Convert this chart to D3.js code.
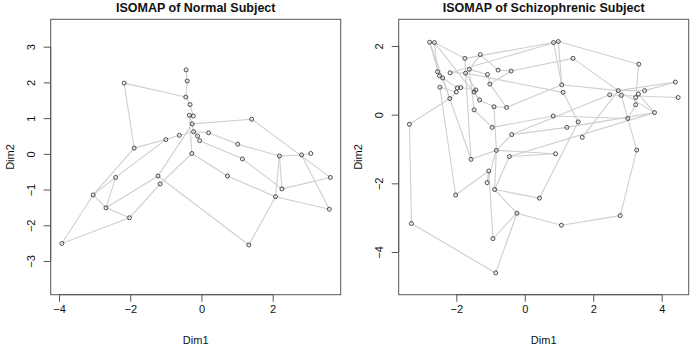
<!DOCTYPE html>
<html>
<head>
<meta charset="utf-8">
<script src="https://cdn.jsdelivr.net/npm/d3@7"></script>
<style>
  body { margin: 0; background: #fff; }
  svg { display: block; font-family: "Liberation Sans", Arial, sans-serif; }
</style>
</head>
<body>
<div id="chart"></div>
<script>
// ---- data: normal subject ----
const normalX = [-0.43, -0.40, -2.17, -0.44, -0.32, -0.34, -0.23, 1.41, -0.26, -0.22,
  0.20, -0.62, -0.11, -1.00, -0.05, -1.89, 1.02, -0.27, 2.19, 2.81,
  3.07, 1.15, -2.41, -1.22, 0.73, 3.62, -1.16, 2.26, -3.04, 2.08,
  -2.68, 3.59, -2.02, -3.92, 1.33];
const normalY = [2.35, 2.04, 1.98, 1.59, 1.38, 1.08, 1.06, 0.97, 0.84, 0.62,
  0.59, 0.52, 0.50, 0.40, 0.37, 0.16, 0.27, 0.01, -0.06, -0.03,
  0.01, -0.14, -0.66, -0.62, -0.62, -0.66, -0.84, -0.98, -1.15, -1.20,
  -1.51, -1.55, -1.79, -2.51, -2.55];
// pairs of point numbers (1-based)
const normalEdges = [
  [1, 2], [2, 4], [4, 5], [5, 7], [7, 6], [6, 9], [9, 10], [10, 13], [13, 15], [6, 18],
  [3, 4], [3, 16], [9, 8], [8, 26], [20, 32], [16, 14], [14, 12], [12, 10], [10, 11],
  [11, 17], [15, 22], [23, 14], [29, 23], [29, 16], [29, 34], [34, 33], [33, 31],
  [31, 29], [31, 23], [31, 24], [33, 27], [27, 18], [24, 9], [24, 35], [18, 25],
  [25, 30], [35, 30], [30, 19], [30, 32], [28, 19], [28, 26], [22, 28], [17, 19],
  [19, 20], [20, 21]
];

// ---- data: schizophrenic subject ----
const schizoX = [-2.78, -2.64, 0.84, 0.98, -1.30, -1.75, 1.41, 3.33, -2.55, -2.18,
  -1.62, -1.73, -0.78, -0.40, -1.09, -2.49, -2.40, -1.02, 1.08, 4.40,
  -2.48, -1.97, -1.87, -2.00, -1.43, -1.48, 1.12, 2.73, 2.48, 2.82,
  3.50, 3.32, 3.24, 4.48, -2.19, -1.32, -0.90, -0.53, 3.24, -1.48,
  3.79, 0.83, 3.01, -3.37, 1.56, -0.95, 1.23, -0.38, 1.68, -0.83,
  3.27, -1.57, -0.45, 0.90, -1.05, -1.10, -0.88, -2.02, 0.43, -0.23,
  2.79, -3.31, 1.07, -0.93, -0.85];
const schizoY = [2.11, 2.10, 2.10, 2.13, 1.75, 1.64, 1.64, 1.47, 1.25, 1.22,
  1.32, 1.21, 1.30, 1.27, 1.17, 1.13, 1.07, 0.89, 0.87, 0.95,
  0.80, 0.78, 0.79, 0.66, 0.72, 0.66, 0.65, 0.70, 0.58, 0.56,
  0.70, 0.60, 0.50, 0.50, 0.47, 0.43, 0.23, 0.21, 0.29, 0.14,
  0.06, -0.04, -0.11, -0.28, -0.21, -0.37, -0.37, -0.58, -0.66, -1.04,
  -1.03, -1.30, -1.22, -1.14, -1.64, -1.98, -2.18, -2.34, -2.43, -2.87,
  -2.94, -3.17, -3.22, -3.61, -4.61];
// pairs of point indices (0-based)
const schizoEdges = [
  [0, 1], [0, 15], [0, 34], [1, 5], [1, 8], [1, 35], [5, 2], [9, 3], [4, 12], [4, 10],
  [5, 11], [8, 15], [15, 16], [16, 21], [9, 11], [10, 14], [11, 24], [12, 13], [13, 17],
  [14, 17], [11, 26], [13, 6], [21, 22], [20, 23], [22, 24], [24, 25], [25, 35], [23, 34],
  [35, 36], [36, 37], [36, 49], [17, 37], [39, 10], [39, 45], [37, 18], [43, 34],
  [2, 18], [3, 18], [3, 7], [6, 27], [7, 32], [18, 27], [27, 19], [27, 30], [28, 29],
  [29, 33], [30, 19], [31, 40], [32, 38], [38, 42], [42, 41], [42, 50], [42, 29],
  [40, 46], [40, 52], [40, 27], [28, 47], [27, 48], [26, 44], [44, 58], [41, 45],
  [46, 47], [53, 49], [53, 52], [47, 49], [49, 51], [49, 56], [51, 11], [51, 16],
  [52, 56], [54, 55], [54, 57], [54, 63], [55, 49], [56, 58], [56, 59], [57, 20],
  [59, 62], [59, 63], [59, 64], [60, 62], [60, 50], [61, 64], [61, 43]
];

const normalXTicks = [-4, -2, 0, 2];
const normalYTicks = [-3, -2, -1, 0, 1, 2, 3];
const schizoXTicks = [-2, 0, 2, 4];
const schizoYTicks = [-4, -2, 0, 2];

const W = 692, H = 348;
const svg = d3.select("#chart").append("svg")
  .attr("width", W)
  .attr("height", H);

function drawPanel(opt) {
  const x = d3.scaleLinear().domain(opt.xDomain).range([opt.left, opt.right]);
  const y = d3.scaleLinear().domain(opt.yDomain).range([opt.bottom, opt.top]);
  const g = svg.append("g");

  // edges
  g.append("g").selectAll("line")
    .data(opt.edges)
    .join("line")
    .attr("x1", d => x(opt.xs[d[0] - opt.base]))
    .attr("y1", d => y(opt.ys[d[0] - opt.base]))
    .attr("x2", d => x(opt.xs[d[1] - opt.base]))
    .attr("y2", d => y(opt.ys[d[1] - opt.base]))
    .attr("stroke", "#cfcfcf")
    .attr("stroke-width", 1.1);

  // points
  g.append("g").selectAll("circle")
    .data(opt.xs.map((v, i) => [v, opt.ys[i]]))
    .join("circle")
    .attr("cx", d => x(d[0]))
    .attr("cy", d => y(d[1]))
    .attr("r", 2)
    .attr("fill", "none")
    .attr("stroke", "#3a3a3a")
    .attr("stroke-width", 0.9);

  // frame
  g.append("rect")
    .attr("x", opt.left)
    .attr("y", opt.top)
    .attr("width", opt.right - opt.left)
    .attr("height", opt.bottom - opt.top)
    .attr("fill", "none")
    .attr("stroke", "#555")
    .attr("stroke-width", 1);

  // x axis (R style: line spans first to last tick)
  const xAxis = g.append("g")
    .attr("transform", `translate(0,${opt.bottom})`)
    .call(d3.axisBottom(x).tickValues(opt.xTicks).tickSizeInner(7).tickSizeOuter(0).tickPadding(4));
  xAxis.select(".domain").attr("d",
    `M${x(opt.xTicks[0])},0H${x(opt.xTicks[opt.xTicks.length - 1])}`);
  xAxis.selectAll("line, .domain").attr("stroke", "#555");
  xAxis.selectAll("text").attr("font-size", 11).attr("fill", "#111")
    .attr("font-family", "Liberation Sans, Arial, sans-serif");

  const yAxis = g.append("g")
    .attr("transform", `translate(${opt.left},0)`)
    .call(d3.axisLeft(y).tickValues(opt.yTicks).tickSizeInner(7).tickSizeOuter(0));
  yAxis.select(".domain").attr("d",
    `M0,${y(opt.yTicks[0])}V${y(opt.yTicks[opt.yTicks.length - 1])}`);
  yAxis.selectAll("line, .domain").attr("stroke", "#555");
  yAxis.selectAll(".tick text")
    .attr("x", null).attr("dy", null)
    .attr("text-anchor", "middle")
    .attr("font-size", 11).attr("fill", "#111")
    .attr("font-family", "Liberation Sans, Arial, sans-serif")
    .attr("transform", "translate(-16,0) rotate(-90)");

  // title and axis labels
  g.append("text")
    .attr("x", (opt.left + opt.right) / 2)
    .attr("y", 12)
    .attr("text-anchor", "middle")
    .attr("font-weight", "bold")
    .attr("font-size", 12.5)
    .attr("fill", "#111")
    .text(opt.title);

  g.append("text")
    .attr("x", (opt.left + opt.right) / 2)
    .attr("y", 344)
    .attr("text-anchor", "middle")
    .attr("font-size", 11)
    .attr("fill", "#111")
    .text("Dim1");

  g.append("text")
    .attr("transform", `translate(${opt.left - 37},${(opt.top + opt.bottom) / 2}) rotate(-90)`)
    .attr("text-anchor", "middle")
    .attr("font-size", 11)
    .attr("fill", "#111")
    .text("Dim2");
}

drawPanel({
  title: "ISOMAP of Normal Subject",
  xs: normalX, ys: normalY, edges: normalEdges, base: 1,
  xDomain: [-4.233, 3.91], yDomain: [-3.943, 3.767],
  xTicks: normalXTicks, yTicks: normalYTicks,
  left: 50.7, right: 340.7, top: 19.3, bottom: 294.7
});

drawPanel({
  title: "ISOMAP of Schizophrenic Subject",
  xs: schizoX, ys: schizoY, edges: schizoEdges, base: 0,
  xDomain: [-3.683, 4.789], yDomain: [-5.244, 2.778],
  xTicks: schizoXTicks, yTicks: schizoYTicks,
  left: 398.7, right: 688.7, top: 19.3, bottom: 294.7
});
</script>
</body>
</html>
